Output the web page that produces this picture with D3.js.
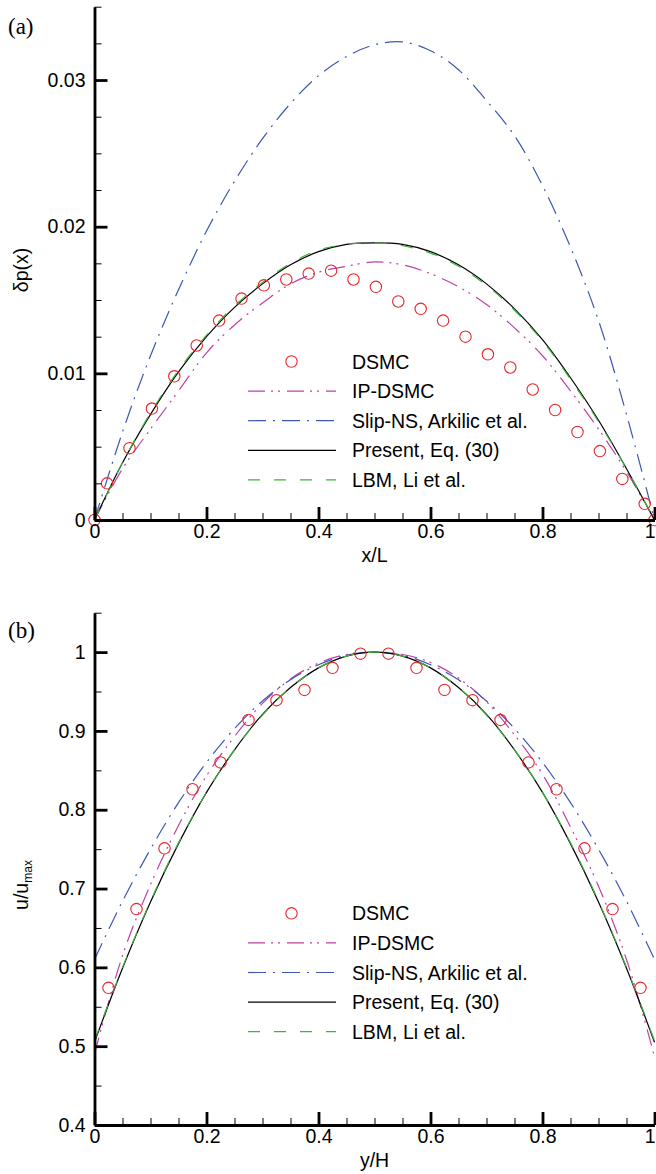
<!DOCTYPE html>
<html>
<head>
<meta charset="utf-8">
<script src="https://cdn.jsdelivr.net/npm/d3@7"></script>
<style>
body { margin: 0; background: #fff; }
text { font-family: "Liberation Sans", Arial, sans-serif; }
</style>
</head>
<body>
<script>
// ---- panel (a): pressure deviation along the channel ----
var xa = [0, 0.05, 0.1, 0.15, 0.2, 0.25, 0.3, 0.35, 0.4, 0.45, 0.5, 0.55, 0.6, 0.65, 0.7, 0.75, 0.8, 0.85, 0.9, 0.95, 1];
var presentA = [0, 0.0039, 0.0072, 0.0101, 0.0125, 0.0145, 0.0161, 0.0174, 0.0183, 0.0188, 0.0189, 0.0188, 0.0183, 0.0174, 0.0161, 0.0144, 0.0123, 0.0097, 0.0068, 0.0035, 0];
var lbmA = [0, 0.0039, 0.0073, 0.0102, 0.0126, 0.0146, 0.0162, 0.0175, 0.0184, 0.0188, 0.0189, 0.0187, 0.0182, 0.0173, 0.0160, 0.0143, 0.0122, 0.0096, 0.0067, 0.0035, 0];
var ipdsmcA = [0, 0.0035, 0.0062, 0.0088, 0.0114, 0.0133, 0.0148, 0.0161, 0.0169, 0.0173, 0.0176, 0.0174, 0.0168, 0.0159, 0.0147, 0.0131, 0.0112, 0.0088, 0.0062, 0.0033, 0];
var slipA = [0, 0.0060, 0.0112, 0.0157, 0.0197, 0.0231, 0.0260, 0.0284, 0.0303, 0.0316, 0.0324, 0.0326, 0.0320, 0.0307, 0.0286, 0.0262, 0.0228, 0.0186, 0.0136, 0.0072, 0];
var dsmcAX = [0, 0.0225, 0.0625, 0.1025, 0.1425, 0.1825, 0.2225, 0.2625, 0.3025, 0.3425, 0.3825, 0.4225, 0.4625, 0.5025, 0.5425, 0.5825, 0.6225, 0.6625, 0.7025, 0.7425, 0.7825, 0.8225, 0.8625, 0.9025, 0.9425, 0.9825, 1];
var dsmcAY = [0, 0.0025, 0.0049, 0.0076, 0.0098, 0.0119, 0.0136, 0.0151, 0.0160, 0.0164, 0.0168, 0.0170, 0.0164, 0.0159, 0.0149, 0.0144, 0.0136, 0.0125, 0.0113, 0.0104, 0.0089, 0.0075, 0.0060, 0.0047, 0.0028, 0.0011, 0];
var yTicksA = [0, 0.01, 0.02, 0.03];
var yMinorA = [0.0025, 0.005, 0.0075, 0.0125, 0.015, 0.0175, 0.0225, 0.025, 0.0275, 0.0325, 0.035];

// ---- panel (b): velocity profile across the channel ----
var xb = [0, 0.05, 0.1, 0.15, 0.2, 0.25, 0.3, 0.35, 0.4, 0.45, 0.5, 0.55, 0.6, 0.65, 0.7, 0.75, 0.8, 0.85, 0.9, 0.95, 1];
var presentB = [0.505, 0.599, 0.683, 0.757, 0.822, 0.876, 0.921, 0.955, 0.980, 0.995, 1.000, 0.995, 0.980, 0.955, 0.921, 0.876, 0.822, 0.757, 0.683, 0.599, 0.505];
var lbmB = [0.507, 0.600, 0.684, 0.758, 0.822, 0.876, 0.920, 0.955, 0.980, 0.995, 1.000, 0.995, 0.980, 0.955, 0.920, 0.876, 0.822, 0.758, 0.684, 0.600, 0.507];
var ipdsmcB = [0.490, 0.615, 0.705, 0.780, 0.843, 0.893, 0.935, 0.966, 0.986, 0.997, 1.000, 0.997, 0.987, 0.967, 0.937, 0.895, 0.845, 0.778, 0.703, 0.610, 0.487];
var slipB = [0.610, 0.684, 0.750, 0.809, 0.860, 0.903, 0.938, 0.965, 0.984, 0.996, 1.000, 0.996, 0.984, 0.965, 0.938, 0.903, 0.860, 0.809, 0.750, 0.684, 0.610];
var dsmcBX = [0.025, 0.075, 0.125, 0.175, 0.225, 0.275, 0.325, 0.375, 0.425, 0.475, 0.525, 0.575, 0.625, 0.675, 0.725, 0.775, 0.825, 0.875, 0.925, 0.975];
var dsmcBY = [0.574, 0.674, 0.751, 0.826, 0.860, 0.914, 0.939, 0.952, 0.980, 0.998, 0.998, 0.980, 0.952, 0.939, 0.914, 0.860, 0.826, 0.751, 0.674, 0.574];
var yTicksB = [0.4, 0.5, 0.6, 0.7, 0.8, 0.9, 1];
var yMinorB = [0.45, 0.55, 0.65, 0.75, 0.85, 0.95, 1.05];

// shared
var xTicks = [0, 0.2, 0.4, 0.6, 0.8, 1];
var xMinor = [0.05, 0.1, 0.15, 0.25, 0.3, 0.35, 0.45, 0.5, 0.55, 0.65, 0.7, 0.75, 0.85, 0.9, 0.95];
var legendLabels = ["DSMC", "IP-DSMC", "Slip-NS, Arkilic et al.", "Present, Eq. (30)", "LBM, Li et al."];

window.onload = function(){
    var w = 656, h = 1174;
    var fs = "19.5px";

    //line styles for each series (same order as legendLabels)
    var styles = [
        { color: "#e8262b" },
        { color: "#bf40a6", dash: "17,6,2,5,2,7" },
        { color: "#3d57b2", dash: "18,7,2,7" },
        { color: "#000000", dash: null },
        { color: "#3fb23f", dash: "12,14" }
    ];

    var svg = d3.select("body")
        .append("svg")
        .attr("width", w)
        .attr("height", h);

    var x = d3.scaleLinear().domain([0, 1]).range([94.5, 654.5]);

    function drawPanel(p){
        var g = svg.append("g").attr("class", "panel");
        var y = p.y;

        var line = d3.line()
            .x(function(d){ return x(d[0]); })
            .y(function(d){ return y(d[1]); })
            .curve(d3.curveCatmullRom);

        //curves: IP-DSMC, Slip-NS, Present, LBM
        p.series.forEach(function(s, i){
            var st = styles[i + 1];
            g.append("path")
                .datum(d3.zip(p.xs, s))
                .attr("d", line)
                .attr("fill", "none")
                .attr("stroke", st.color)
                .attr("stroke-width", 1.2)
                .attr("stroke-dasharray", st.dash);
        });

        //DSMC symbols
        g.selectAll(".dsmc")
            .data(d3.zip(p.dx, p.dy))
            .enter()
            .append("circle")
            .attr("class", "dsmc")
            .attr("cx", function(d){ return x(d[0]); })
            .attr("cy", function(d){ return y(d[1]); })
            .attr("r", 5.7)
            .attr("fill", "none")
            .attr("stroke", styles[0].color)
            .attr("stroke-width", 1.1);

        //minor ticks (inward)
        g.append("g")
            .attr("transform", "translate(0," + y.range()[0] + ")")
            .call(d3.axisBottom(x).tickValues(xMinor).tickSize(-7).tickFormat(""))
            .call(function(a){ a.select(".domain").remove(); });
        g.append("g")
            .attr("transform", "translate(" + x(0) + ",0)")
            .call(d3.axisLeft(y).tickValues(p.yMinor).tickSize(-7).tickFormat(""))
            .call(function(a){ a.select(".domain").remove(); });

        //major ticks and axis lines
        var xax = g.append("g")
            .attr("transform", "translate(0," + y.range()[0] + ")")
            .call(d3.axisBottom(x).tickValues(xTicks).tickSize(-13).tickSizeOuter(0).tickPadding(4).tickFormat(d3.format("~g")));
        var yax = g.append("g")
            .attr("transform", "translate(" + x(0) + ",0)")
            .call(d3.axisLeft(y).tickValues(p.yTicks).tickSize(-13).tickSizeOuter(0).tickPadding(9).tickFormat(d3.format("~g")));
        [xax, yax].forEach(function(a){
            a.select(".domain").attr("stroke-width", 2.8).attr("stroke", "#000");
            a.selectAll(".tick line").attr("stroke-width", 2.8).attr("stroke", "#000");
            a.selectAll("text")
                .style("font-size", fs)
                .style("font-family", "'Liberation Sans', Arial, sans-serif")
                .attr("fill", "#000");
        });
        //last x label sits on the right edge, keep it inside the page
        xax.selectAll(".tick text")
            .filter(function(d){ return d === 1; })
            .attr("text-anchor", "end")
            .attr("x", 0.5);

        //axis titles
        g.append("text")
            .attr("x", x(0.5))
            .attr("y", p.xTitleY)
            .attr("text-anchor", "middle")
            .style("font-size", fs)
            .text(p.xTitle);

        var yt = g.append("text")
            .attr("transform", "translate(28," + p.yTitleY + ") rotate(-90)")
            .attr("text-anchor", "middle")
            .style("font-size", fs);
        yt.append("tspan").text(p.yTitle);
        if (p.ySub) {
            yt.append("tspan")
                .attr("dy", 4)
                .style("font-size", "12px")
                .text(p.ySub);
        }

        //panel letter
        g.append("text")
            .attr("x", 8)
            .attr("y", p.letterY)
            .style("font-family", "'Liberation Serif', 'DejaVu Serif', serif")
            .style("font-size", "23px")
            .text(p.letter);

        //legend
        var leg = g.append("g");
        legendLabels.forEach(function(lab, i){
            var ly = p.legendY + i * p.legendStep;
            if (i === 0) {
                leg.append("circle")
                    .attr("cx", 291.5).attr("cy", ly).attr("r", 5.7)
                    .attr("fill", "none")
                    .attr("stroke", styles[0].color)
                    .attr("stroke-width", 1.1);
            } else {
                leg.append("line")
                    .attr("x1", 248).attr("x2", 336)
                    .attr("y1", ly).attr("y2", ly)
                    .attr("stroke", styles[i].color)
                    .attr("stroke-width", 1.2)
                    .attr("stroke-dasharray", styles[i].dash);
            }
            leg.append("text")
                .attr("x", 352)
                .attr("y", ly)
                .attr("dy", "0.36em")
                .style("font-size", fs)
                .text(lab);
        });
    }

    drawPanel({
        y: d3.scaleLinear().domain([0, 0.035]).range([520, 6.7]),
        xs: xa,
        series: [ipdsmcA, slipA, presentA, lbmA],
        dx: dsmcAX, dy: dsmcAY,
        yTicks: yTicksA, yMinor: yMinorA,
        xTitle: "x/L", xTitleY: 562,
        yTitle: "\u03b4p(x)", yTitleY: 270,
        letter: "(a)", letterY: 34,
        legendY: 361.5, legendStep: 29.6
    });

    drawPanel({
        y: d3.scaleLinear().domain([0.4, 1.05]).range([1125, 612.7]),
        xs: xb,
        series: [ipdsmcB, slipB, presentB, lbmB],
        dx: dsmcBX, dy: dsmcBY,
        yTicks: yTicksB, yMinor: yMinorB,
        xTitle: "y/H", xTitleY: 1167,
        yTitle: "u/u", ySub: "max", yTitleY: 885,
        letter: "(b)", letterY: 638,
        legendY: 913.3, legendStep: 29.6
    });
};
</script>
</body>
</html>
